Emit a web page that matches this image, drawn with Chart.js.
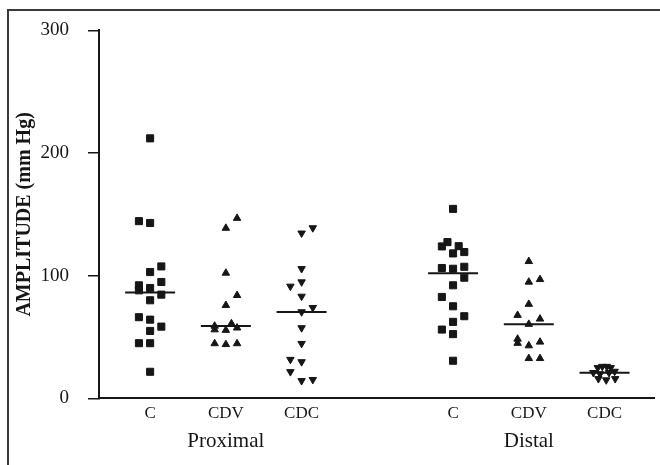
<!DOCTYPE html>
<html lang="en">
<head>
<meta charset="utf-8">
<title>Amplitude</title>
<script src="https://cdn.jsdelivr.net/npm/chart.js@4.4.1/dist/chart.umd.min.js"></script>
<style>
    body { margin: 0; background: #fff; }
    #wrap { position: relative; width: 660px; height: 465px; }
    #frame { position: absolute; left: 7px; top: 9px; right: 0; bottom: 0;
             border-left: 2px solid #3a3a3a; border-top: 2px solid #3a3a3a; }
    canvas { position: absolute; left: 0; top: 0; }
</style>
</head>
<body>
<div id="wrap">
    <div id="frame"></div>
    <canvas id="myChart" width="660" height="465"></canvas>
</div>
<script>
// Category labels and where they sit on the x axis
let groupLabels = ['C', 'CDV', 'CDC', 'C', 'CDV', 'CDC'];
let groupPos = [1, 2, 3, 5, 6, 7];
let regionLabels = ['Proximal', 'Distal'];
let regionPos = [2, 6];
let yTicks = [0, 100, 200, 300];

// Amplitude values (mm Hg), with the column each dot sits in
let proxC = [212, 144.5, 143, 107.6, 103, 94.9, 92.2, 88.1, 90, 84.6, 80, 66.2, 64.2, 58.5, 55, 45, 45, 21.7];
let proxCCol = [0, -1, 0, 1, 0, 1, -1, -1, 0, 1, 0, -1, 0, 1, 0, -1, 0, 0];

let proxCDV = [146.9, 138.8, 102.2, 84, 75.9, 61, 59, 56, 55.6, 57.5, 44.7, 44, 44.7];
let proxCDVCol = [1, 0, 0, 1, 0, 0.5, -1, -1, 0, 1, -1, 0, 1];

let proxCDC = [139, 134.7, 105.7, 94.9, 91.4, 83.2, 74, 70.5, 57.5, 44.7, 31.7, 29.8, 21.7, 14.4, 15.3];
let proxCDCCol = [1, 0, 0, 0, -1, 0, 1, 0, 0, 0, -1, 0, -1, 0, 1];

let distC = [154.5, 127.4, 123.9, 124.1, 118.2, 119.3, 106.3, 105.7, 107.3, 98.4, 92.2, 82.7, 75.1, 67, 62.4, 56.1, 52.4, 30.7];
let distCCol = [0, -0.5, -1, 0.5, 0, 1, -1, 0, 1, 1, 0, -1, 0, 1, 0, -1, 0, 0];

let distCDV = [111.7, 97, 94.9, 76.8, 67.8, 64.8, 60.5, 48.4, 45, 46, 43, 32.6, 32.6];
let distCDVCol = [0, 1, 0, 0, -1, 1, 0, -1, -1, 1, 0, 0, 1];

let distCDC = [25, 26, 26, 25, 21, 22, 20, 21, 16, 15, 16];
let distCDCCol = [-0.6, -0.2, 0.2, 0.55, -1, 0.9, -0.4, 0.4, -0.55, 0.15, 0.95];

const colSpread = 0.148;  // x units between two columns of dots
const lineHalf = 0.33;     // half length of the median bar
const ink = '#161616';
const serif = "'Liberation Serif', 'DejaVu Serif', serif";

const median = (arr) => {
    let s = arr.slice().sort((a, b) => a - b);
    let m = Math.floor(s.length / 2);
    return s.length % 2 ? s[m] : (s[m - 1] + s[m]) / 2;
};

const toPoints = (vals, cols, pos) => vals.map((v, i) => ({ x: pos + cols[i] * colSpread, y: v }));

const dotSet = (vals, cols, pos, style, rotation, radius) => ({
    data: toPoints(vals, cols, pos),
    showLine: false,
    pointStyle: style,
    rotation: rotation,
    pointRadius: radius,
    pointBackgroundColor: ink,
    pointBorderColor: ink,
    pointBorderWidth: 1
});

const medianSet = (vals, pos) => {
    let m = median(vals);
    return {
        data: [{ x: pos - lineHalf, y: m }, { x: pos + lineHalf, y: m }],
        showLine: true,
        borderColor: ink,
        borderWidth: 2,
        pointRadius: 0
    };
};

let groups = [
    [proxC, proxCCol, 'rect', 0, 5],
    [proxCDV, proxCDVCol, 'triangle', 0, 4.3],
    [proxCDC, proxCDCCol, 'triangle', 180, 4.3],
    [distC, distCCol, 'rect', 0, 5],
    [distCDV, distCDVCol, 'triangle', 0, 4.3],
    [distCDC, distCDCCol, 'triangle', 180, 4.3]
];

let datasets = [];
groups.forEach((g, i) => {
    datasets.push(dotSet(g[0], g[1], groupPos[i], g[2], g[3], g[4]));
    datasets.push(medianSet(g[0], groupPos[i]));
});

const xMin = 0.325;
const xMax = 7.653;

const config = {
    type: 'scatter',
    data: { datasets: datasets },
    options: {
        responsive: false,
        animation: false,
        layout: { padding: { left: 8, top: 28, right: 0, bottom: 11 } },
        plugins: { legend: { display: false }, tooltip: { enabled: false } },
        scales: {
            x: {
                type: 'linear',
                position: 'bottom',
                weight: 0,
                min: xMin,
                max: xMax,
                afterBuildTicks: (s) => { s.ticks = groupPos.map(v => ({ value: v })); },
                ticks: {
                    autoSkip: false,
                    maxRotation: 0,
                    padding: 5,
                    color: ink,
                    font: { family: serif, size: 17 },
                    callback: (v) => groupLabels[groupPos.indexOf(v)]
                },
                grid: { display: false, drawTicks: false },
                border: { display: true, color: ink, width: 2 }
            },
            x2: {
                type: 'linear',
                position: 'bottom',
                weight: 1,
                min: xMin,
                max: xMax,
                afterBuildTicks: (s) => { s.ticks = regionPos.map(v => ({ value: v })); },
                ticks: {
                    autoSkip: false,
                    maxRotation: 0,
                    padding: 0,
                    color: ink,
                    font: { family: serif, size: 21 },
                    callback: (v) => regionLabels[regionPos.indexOf(v)]
                },
                grid: { display: false, drawTicks: false },
                border: { display: false }
            },
            y: {
                min: 0,
                max: 300,
                afterBuildTicks: (s) => { s.ticks = yTicks.map(v => ({ value: v })); },
                afterFit: (s) => { s.width = 91; },
                ticks: {
                    padding: 19,
                    color: ink,
                    font: { family: serif, size: 19 }
                },
                grid: { drawOnChartArea: false, drawTicks: true, tickLength: 11, color: ink, lineWidth: 1.5 },
                border: { color: ink, width: 2 },
                title: {
                    display: true,
                    text: 'AMPLITUDE (mm Hg)',
                    color: ink,
                    font: { family: serif, size: 20, weight: 'bold' },
                    padding: { top: 5, bottom: 0 }
                }
            }
        }
    }
};

const ctx = document.getElementById('myChart').getContext('2d');
const myChart = new Chart(ctx, config);
</script>
</body>
</html>
